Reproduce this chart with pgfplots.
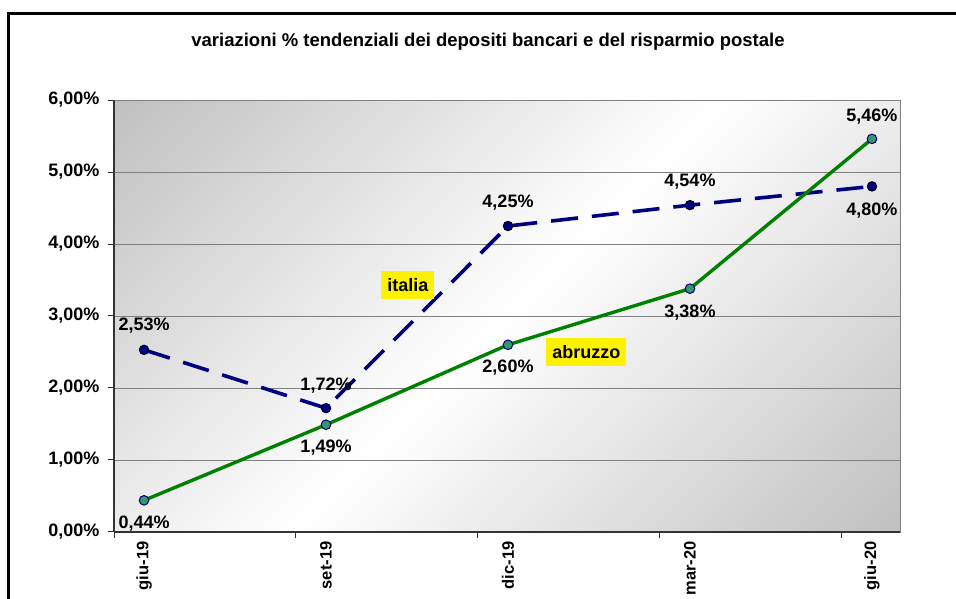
\documentclass[border=0pt]{standalone}
\usepackage{fontspec}
\setmainfont{Liberation Sans}
\usepackage{pgfplots}
\usepackage{pgfplotstable}
\pgfplotsset{compat=1.18}
\definecolor{navy}{HTML}{000080}
\definecolor{abgreen}{HTML}{008000}
\definecolor{markgreen}{HTML}{339966}
\definecolor{bggray}{HTML}{C0C0C0}
\pgfdeclareverticalshading{bgshade}{100bp}{color(0bp)=(bggray); color(14.6bp)=(bggray); color(50bp)=(white); color(85.4bp)=(bggray); color(100bp)=(bggray)}

\pgfplotstableread{
x y dy
0 0.44 -23
1 1.49 -23
2 2.60 -23
3 3.38 -24
4 5.46 22
}\abruzzo
\pgfplotstableread{
x y dy
0 2.53 24
1 1.72 23
2 4.25 23
3 4.54 23
4 4.80 -24
}\italia

\begin{document}
\begin{tikzpicture}[x=1pt,y=1pt]
\path[use as bounding box] (0,0) rectangle (956,599);
\draw[line width=3pt] (8.5,585.5) rectangle (1000,-40);
\node[font=\bfseries\fontsize{18.5}{21}\selectfont] at (488,557) {variazioni \% tendenziali dei depositi bancari e del risparmio postale};
\begin{axis}[
  at={(114pt,67pt)}, anchor=south west, scale only axis,
  width=786pt, height=432pt,
  xmin=-0.165, xmax=4.154, ymin=0, ymax=6,
  clip=false,
  axis background/.style={shading=bgshade, shading angle=45, draw=gray},
  axis x line*=bottom, axis y line*=left,
  axis line style={-, line width=1.2pt, draw=black!80},
  tick align=outside, major tick length=6pt,
  tick style={draw=black!80, line width=1pt},
  xtick={-0.165,0.835,1.835,2.835,3.835},
  xticklabels={},
  extra x ticks={0,1,2,3,4},
  extra x tick labels={giu-19,set-19,dic-19,mar-20,giu-20},
  extra x tick style={tick style={draw=none}, grid=none},
  xticklabel style={rotate=90, anchor=east, font=\bfseries\fontsize{16.5}{19}\selectfont},
  ytick={0,1,2,3,4,5,6},
  yticklabels={{0,00\%},{1,00\%},{2,00\%},{3,00\%},{4,00\%},{5,00\%},{6,00\%}},
  yticklabel style={font=\bfseries\fontsize{18}{20}\selectfont, xshift=-5pt},
  ymajorgrids, grid style={gray, line width=0.7pt},
  /pgf/number format/assume math mode=true,
  nodes near coords={\pgfmathprintnumber[fixed,fixed zerofill,precision=2,use comma]{\pgfplotspointmeta}\%},
  point meta=y,
  visualization depends on={\thisrow{dy} \as \dy},
  every node near coord/.append style={anchor=center, yshift=\dy pt, font=\bfseries\fontsize{18}{20}\selectfont, text=black},
]
\addplot[navy, line width=3.6pt, dash pattern=on 27pt off 14pt, mark=*, mark size=4.8pt,
  mark options={solid, fill=navy, draw=black, line width=0.8pt}] table[x=x,y=y] {\italia};
\addplot[abgreen, line width=3.4pt, mark=*, mark size=4.8pt,
  mark options={solid, fill=markgreen, draw=navy, line width=1pt}] table[x=x,y=y] {\abruzzo};
\node[fill=yellow, font=\bfseries\fontsize{18}{20}\selectfont, inner xsep=6pt, minimum height=28pt] at (axis cs:1.45,3.43) {italia};
\node[fill=yellow, font=\bfseries\fontsize{18}{20}\selectfont, inner xsep=6pt, minimum height=28pt] at (axis cs:2.43,2.5) {abruzzo};
\end{axis}
\end{tikzpicture}
\end{document}
